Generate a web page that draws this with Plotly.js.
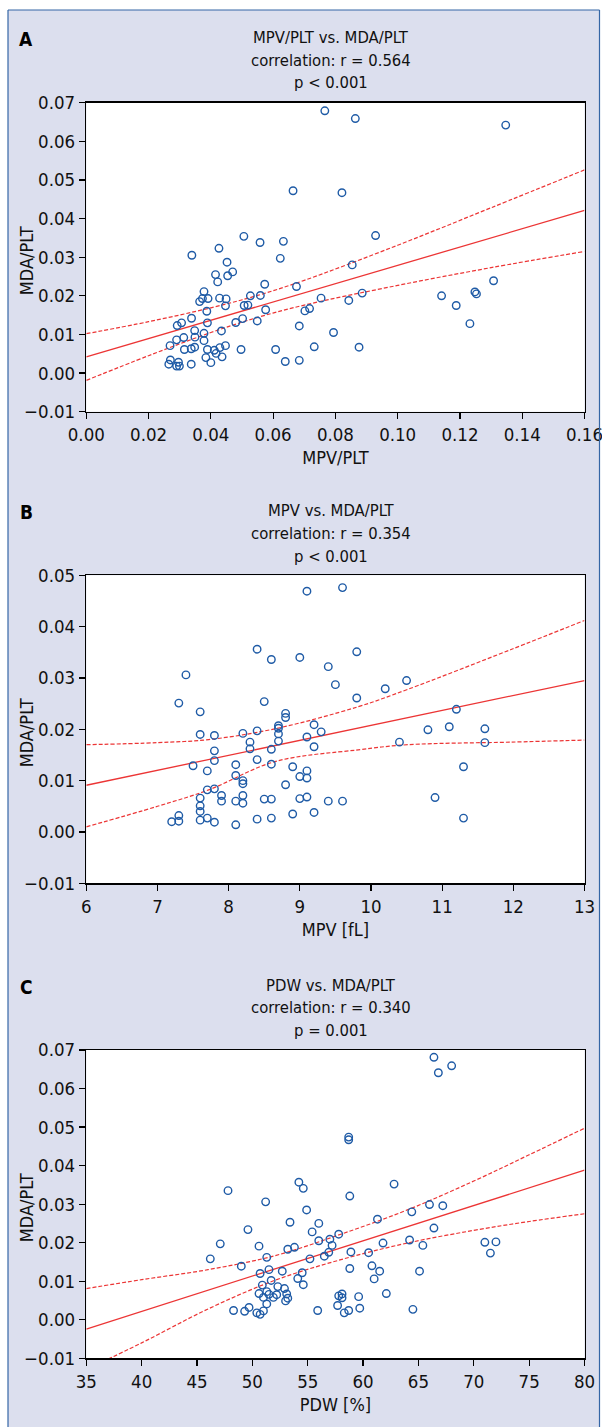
<!DOCTYPE html>
<html><head><meta charset="utf-8">
<script src="https://cdn.plot.ly/plotly-3.0.1.min.js"></script>
<style>html,body{margin:0;padding:0;background:#fff;}#chart{width:602px;height:1427px;}</style>
</head><body><div id="chart"></div>
<script>
// ---- Panel A: MPV/PLT vs MDA/PLT ----
const aMpvPlt = [
 0.0766,0.0864,0.1347,0.0664,0.0821,0.0506,0.0558,0.0633,0.0929,0.0426,
 0.0339,0.0623,0.0452,0.0854,0.0470,0.0415,0.0454,0.0422,0.0573,0.0675,
 0.0378,0.1308,0.1141,0.1248,0.1253,0.0886,0.0527,0.0559,0.0754,0.0428,
 0.0449,0.0391,0.0373,0.0364,0.0843,0.1188,0.0507,0.0519,0.0447,0.0576,
 0.0717,0.0702,0.0387,0.0338,0.0502,0.1232,0.0306,0.0292,0.0389,0.0480,
 0.0549,0.0684,0.0434,0.0348,0.0794,0.0378,0.0349,0.0313,0.0290,0.0378,
 0.0269,0.0447,0.0429,0.0348,0.0315,0.0389,0.0337,0.0411,0.0497,0.0608,
 0.0732,0.0876,0.0417,0.0384,0.0436,0.0400,0.0639,0.0684,0.0270,0.0265,
 0.0296,0.0290,0.0299,0.0337];
const aMdaPlt = [
 0.0679,0.0659,0.0642,0.0472,0.0467,0.0354,0.0338,0.0341,0.0356,0.0323,
 0.0305,0.0297,0.0287,0.0280,0.0262,0.0255,0.0252,0.0236,0.0230,0.0224,
 0.0211,0.0239,0.0200,0.0210,0.0205,0.0207,0.0200,0.0201,0.0194,0.0194,
 0.0192,0.0193,0.0193,0.0185,0.0188,0.0175,0.0175,0.0176,0.0174,0.0164,
 0.0167,0.0161,0.0160,0.0142,0.0141,0.0128,0.0130,0.0123,0.0130,0.0131,
 0.0135,0.0122,0.0109,0.0110,0.0105,0.0103,0.0093,0.0092,0.0086,0.0084,
 0.0071,0.0071,0.0066,0.0067,0.0061,0.0061,0.0063,0.0059,0.0061,0.0061,
 0.0068,0.0067,0.0051,0.0040,0.0042,0.0027,0.0030,0.0033,0.0034,0.0023,
 0.0028,0.0018,0.0018,0.0023];
const aFitX = [0, 0.16];
const aFitY = [0.0042, 0.0421];
const aBandX = [0, 0.02, 0.04, 0.055, 0.07, 0.10, 0.13, 0.16];
const aBandUp = [0.0102, 0.0133, 0.0169, 0.0201, 0.0240, 0.0331, 0.0428, 0.0526];
const aBandLo = [-0.0019, 0.0045, 0.0105, 0.0144, 0.0176, 0.0227, 0.0273, 0.0315];
const aXTicks = [0, 0.02, 0.04, 0.06, 0.08, 0.10, 0.12, 0.14, 0.16];
const aYTicks = [-0.01, 0, 0.01, 0.02, 0.03, 0.04, 0.05, 0.06, 0.07];

// ---- Panel B: MPV vs MDA/PLT ----
const bMpv = [
 9.1,9.6,8.4,8.6,9.0,9.8,9.4,7.4,9.5,10.5,
 10.2,9.8,7.3,8.5,7.6,11.2,8.8,8.8,8.7,8.7,
 9.2,8.4,9.3,10.8,11.1,11.6,7.6,7.8,8.2,8.7,
 9.1,8.7,8.3,10.4,11.6,8.3,8.6,9.2,7.8,7.8,
 8.4,7.5,8.1,8.6,8.9,11.3,7.7,9.1,8.1,9.0,
 9.1,8.2,8.2,8.8,7.7,7.8,7.9,8.2,7.6,8.5,
 8.6,9.0,9.1,10.9,7.9,8.1,8.2,9.4,9.6,7.6,
 7.6,9.2,8.9,7.3,7.7,7.6,8.4,8.6,11.3,7.2,
 7.3,7.8,8.1];
const bMdaPlt = [
 0.0469,0.0476,0.0356,0.0336,0.0340,0.0351,0.0322,0.0306,0.0287,0.0295,
 0.0279,0.0261,0.0251,0.0254,0.0234,0.0239,0.0231,0.0223,0.0207,0.0202,
 0.0209,0.0197,0.0195,0.0199,0.0205,0.0201,0.0190,0.0188,0.0192,0.0191,
 0.0185,0.0177,0.0175,0.0175,0.0174,0.0162,0.0161,0.0166,0.0158,0.0139,
 0.0141,0.0129,0.0131,0.0132,0.0127,0.0127,0.0119,0.0119,0.0110,0.0108,
 0.0105,0.0100,0.0094,0.0092,0.0082,0.0084,0.0071,0.0071,0.0066,0.0064,
 0.0064,0.0065,0.0068,0.0067,0.0060,0.0060,0.0056,0.0060,0.0060,0.0051,
 0.0040,0.0038,0.0035,0.0032,0.0027,0.0023,0.0025,0.0027,0.0027,0.0020,
 0.0021,0.0019,0.0014];
const bFitX = [6, 13];
const bFitY = [0.0091, 0.0295];
const bBandX = [6, 7, 7.72, 8.65, 9.82, 10.52, 11.96, 13];
const bBandUp = [0.0170, 0.0174, 0.0180, 0.0201, 0.0244, 0.0278, 0.0355, 0.0412];
const bBandLo = [0.0010, 0.0050, 0.0082, 0.0137, 0.0160, 0.0170, 0.0175, 0.0179];
const bXTicks = [6, 7, 8, 9, 10, 11, 12, 13];
const bYTicks = [-0.01, 0, 0.01, 0.02, 0.03, 0.04, 0.05];

// ---- Panel C: PDW vs MDA/PLT ----
const cPdw = [
 66.4,66.8,68.0,58.7,58.7,54.2,54.6,62.8,47.8,58.8,
 51.2,54.9,64.4,66.0,67.2,53.4,56.0,61.3,49.6,55.4,
 66.4,57.8,57.0,56.0,57.2,47.1,50.6,64.2,61.8,65.4,
 71.0,72.0,53.8,53.2,58.9,60.5,56.9,71.5,56.5,55.2,
 51.3,46.2,49.0,60.8,58.8,51.5,52.7,61.5,65.1,50.7,
 54.5,54.1,61.0,51.7,50.9,54.6,52.3,52.9,50.6,51.3,
 51.5,52.2,53.1,51.0,51.9,53.2,53.0,57.8,58.1,58.1,
 59.6,62.1,51.3,57.7,59.7,49.7,48.3,49.3,55.9,58.7,
 64.5,51.0,50.4,50.7,58.3];
const cMdaPlt = [
 0.0681,0.0641,0.0659,0.0474,0.0467,0.0357,0.0341,0.0352,0.0335,0.0321,
 0.0306,0.0285,0.0280,0.0299,0.0296,0.0253,0.0250,0.0261,0.0234,0.0228,
 0.0238,0.0222,0.0209,0.0205,0.0193,0.0197,0.0191,0.0207,0.0199,0.0193,
 0.0201,0.0202,0.0188,0.0183,0.0176,0.0174,0.0175,0.0173,0.0165,0.0158,
 0.0162,0.0158,0.0139,0.0140,0.0133,0.0130,0.0126,0.0126,0.0126,0.0120,
 0.0122,0.0107,0.0106,0.0102,0.0090,0.0091,0.0086,0.0081,0.0068,0.0073,
 0.0066,0.0065,0.0067,0.0058,0.0058,0.0056,0.0049,0.0062,0.0067,0.0057,
 0.0060,0.0068,0.0041,0.0037,0.0030,0.0032,0.0024,0.0022,0.0024,0.0024,
 0.0027,0.0023,0.0018,0.0014,0.0018];
const cFitX = [35, 80];
const cFitY = [-0.0024, 0.0388];
const cBandX = [35, 40, 46, 52, 58, 64, 70, 75, 80];
const cBandUp = [0.0081, 0.0104, 0.0130, 0.0166, 0.0222, 0.0285, 0.0360, 0.0428, 0.0497];
const cBandLo = [-0.0129, -0.0060, 0.0028, 0.0102, 0.0156, 0.0199, 0.0232, 0.0255, 0.0275];
const cXTicks = [35, 40, 45, 50, 55, 60, 65, 70, 75, 80];
const cYTicks = [-0.01, 0, 0.01, 0.02, 0.03, 0.04, 0.05, 0.06, 0.07];

const panelLetters = ['A', 'B', 'C'];
const panelTitles = [
  ['MPV/PLT vs. MDA/PLT', 'correlation: r = 0.564', 'p < 0.001'],
  ['MPV vs. MDA/PLT', 'correlation: r = 0.354', 'p < 0.001'],
  ['PDW vs. MDA/PLT', 'correlation: r = 0.340', 'p = 0.001']
];
const xTitles = ['MPV/PLT', 'MPV [fL]', 'PDW [%]'];
const yTitle = 'MDA/PLT';

// ---- styling / layout ----
const W = 602, H = 1427;
const FONT = '"DejaVu Sans Condensed", "Liberation Sans Narrow", "Liberation Sans", Arial, sans-serif';
const BLUE = '#1f5ba6';
const RED = '#ec3535';
const px = v => v / W;
const py = v => 1 - v / H;

const plotLeft = 86.3, plotRight = 584.5;
const plotTops = [102.7, 575.3, 1050];
const plotBottoms = [411.7, 883.3, 1358.3];
const titleLineY = [[37.5, 60, 82.5], [510.5, 533.3, 556], [985, 1007.7, 1030]];
const letterY = [39, 512, 987];
const yTitleX = 26;

const panels = [
  {x: aMpvPlt, y: aMdaPlt, fx: aFitX, fy: aFitY, bx: aBandX, bu: aBandUp, bl: aBandLo,
   xr: [0, 0.16], xt: aXTicks, xf: '.2f', yr: [-0.01, 0.07], yt: aYTicks},
  {x: bMpv, y: bMdaPlt, fx: bFitX, fy: bFitY, bx: bBandX, bu: bBandUp, bl: bBandLo,
   xr: [6, 13], xt: bXTicks, xf: 'd', yr: [-0.01, 0.05], yt: bYTicks},
  {x: cPdw, y: cMdaPlt, fx: cFitX, fy: cFitY, bx: cBandX, bu: cBandUp, bl: cBandLo,
   xr: [35, 80], xt: cXTicks, xf: 'd', yr: [-0.01, 0.07], yt: cYTicks}
];

const traces = [];
const layout = {
  width: W, height: H,
  margin: {l: 0, r: 0, t: 0, b: 0},
  paper_bgcolor: '#dcdfee',
  plot_bgcolor: '#ffffff',
  showlegend: false,
  font: {family: FONT, color: '#111111', size: 18},
  annotations: [],
  shapes: [
    {type: 'rect', xref: 'paper', yref: 'paper', x0: 0, x1: px(8), y0: 0, y1: 1,
     fillcolor: '#ffffff', line: {width: 0}, layer: 'below'},
    {type: 'rect', xref: 'paper', yref: 'paper', x0: 0, x1: 1, y0: py(10), y1: 1,
     fillcolor: '#ffffff', line: {width: 0}, layer: 'below'},
    {type: 'rect', xref: 'paper', yref: 'paper', x0: px(599.5), x1: 1, y0: 0, y1: 1,
     fillcolor: '#ffffff', line: {width: 0}, layer: 'below'},
    {type: 'line', xref: 'paper', yref: 'paper', x0: px(8), x1: px(8), y0: 0, y1: py(10),
     line: {color: '#3566a6', width: 1.2}},
    {type: 'line', xref: 'paper', yref: 'paper', x0: px(8), x1: px(599.5), y0: py(10), y1: py(10),
     line: {color: '#3566a6', width: 1.2}},
    {type: 'line', xref: 'paper', yref: 'paper', x0: px(599.5), x1: px(599.5), y0: 0, y1: py(10),
     line: {color: '#3566a6', width: 1.2}}
  ]
};

panels.forEach((p, i) => {
  const n = i === 0 ? '' : String(i + 1);
  const xa = 'x' + n, ya = 'y' + n;
  traces.push({type: 'scatter', mode: 'lines', x: p.bx, y: p.bu, xaxis: xa, yaxis: ya,
    line: {color: RED, width: 1.2, dash: '4px,2px', shape: 'spline'}, hoverinfo: 'skip'});
  traces.push({type: 'scatter', mode: 'lines', x: p.bx, y: p.bl, xaxis: xa, yaxis: ya,
    line: {color: RED, width: 1.2, dash: '4px,2px', shape: 'spline'}, hoverinfo: 'skip'});
  traces.push({type: 'scatter', mode: 'lines', x: p.fx, y: p.fy, xaxis: xa, yaxis: ya,
    line: {color: RED, width: 1.3}, hoverinfo: 'skip'});
  traces.push({type: 'scatter', mode: 'markers', x: p.x, y: p.y, xaxis: xa, yaxis: ya,
    marker: {symbol: 'circle-open', size: 7.5, color: BLUE, line: {width: 1.4, color: BLUE}},
    cliponaxis: true});

  const axCommon = {
    showline: true, mirror: true, linecolor: '#000000', linewidth: 1.5,
    ticks: 'outside', ticklen: 6, tickwidth: 1.2, tickcolor: '#000000',
    showgrid: false, zeroline: false, fixedrange: true, ticklabeloverflow: 'allow',
    tickfont: {family: FONT, size: 18.5, color: '#111111'}
  };
  layout['xaxis' + n] = Object.assign({}, axCommon, {
    domain: [px(plotLeft), px(plotRight)], anchor: ya,
    range: p.xr, tickmode: 'array', tickvals: p.xt, tickformat: p.xf,
    title: {text: xTitles[i], font: {family: FONT, size: 18, color: '#111111'}, standoff: 7}
  });
  layout['yaxis' + n] = Object.assign({}, axCommon, {
    domain: [py(plotBottoms[i]), py(plotTops[i])], anchor: xa,
    range: p.yr, tickmode: 'array', tickvals: p.yt, tickformat: '.2f'
  });

  // y-axis title placed as a rotated annotation for exact positioning
  layout.annotations.push({xref: 'paper', yref: 'paper', x: px(yTitleX),
    y: py((plotTops[i] + plotBottoms[i]) / 2 + 4), xanchor: 'center', yanchor: 'middle',
    textangle: -90, showarrow: false, text: yTitle,
    font: {family: FONT, size: 18, color: '#111111'}});
  layout.annotations.push({xref: 'paper', yref: 'paper', x: px(26), y: py(letterY[i]),
    xanchor: 'center', yanchor: 'middle', showarrow: false,
    text: '<b>' + panelLetters[i] + '</b>', font: {family: FONT, size: 19, color: '#000000'}});
  panelTitles[i].forEach((t, k) => {
    layout.annotations.push({xref: 'paper', yref: 'paper', x: px(331), y: py(titleLineY[i][k]),
      xanchor: 'center', yanchor: 'middle', showarrow: false, text: t,
      font: {family: FONT, size: 16.5, color: '#111111'}});
  });
});

Plotly.newPlot('chart', traces, layout, {staticPlot: true, displayModeBar: false});
</script>
</body></html>
